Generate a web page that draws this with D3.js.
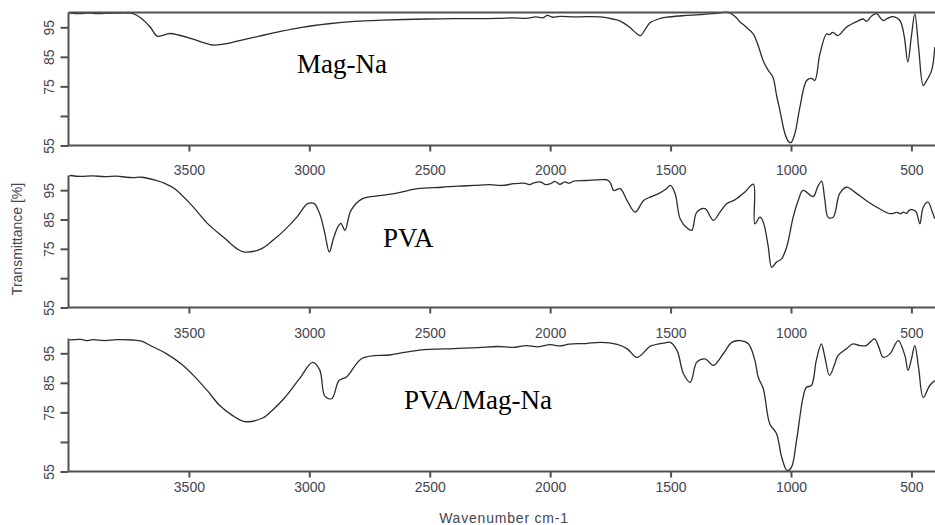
<!DOCTYPE html>
<html>
<head>
<meta charset="utf-8">
<script src="https://cdn.jsdelivr.net/npm/d3@7"></script>
<style>
  body { margin: 0; background: #fff; }
  svg { display: block; }
  .axis path, .axis line { stroke: #505050; stroke-width: 2; }
  .axis text { fill: #454550; font-family: Arial, "Liberation Sans", sans-serif; font-size: 14px; }
  .spectrum { fill: none; stroke: #2c2c2c; stroke-width: 1.3; }
  .label { font-family: "Times New Roman", "Liberation Serif", serif; font-size: 27px; fill: #000; }
</style>
</head>
<body>
<div id="graph"></div>
<script>
// spectra: [wavenumber cm-1, transmittance %]
var magNa = [[3996,99.8],[3950,99.6],[3920,99.8],[3880,99.6],[3850,99.7],[3800,99.8],[3732,99.6],[3697,98.0],[3660,95.0],[3631,92.0],[3579,92.9],[3540,92.3],[3490,91.2],[3440,89.8],[3403,89.0],[3350,89.4],[3304,90.2],[3208,92.0],[3120,93.6],[3031,95.0],[2920,96.2],[2811,97.0],[2700,97.4],[2513,97.8],[2400,97.9],[2218,98.0],[2150,98.2],[2100,98.0],[2060,98.5],[2030,98.2],[2011,99.0],[1990,98.4],[1960,98.7],[1900,98.5],[1850,98.6],[1791,98.5],[1740,97.8],[1709,97.1],[1670,95.0],[1640,92.8],[1625,92.2],[1600,95.0],[1584,96.6],[1550,97.8],[1515,98.4],[1450,98.9],[1377,99.3],[1300,99.8],[1273,100.1],[1252,99.8],[1230,98.5],[1211,96.8],[1185,95.0],[1157,92.8],[1135,88.5],[1116,83.8],[1095,80.5],[1075,78.1],[1060,72.0],[1046,66.8],[1025,59.0],[1010,56.3],[1000,56.0],[984,59.0],[963,68.0],[935,77.0],[915,77.7],[901,77.0],[880,86.0],[852,92.8],[840,92.5],[826,93.3],[806,92.2],[770,95.0],[730,96.8],[701,97.8],[686,97.0],[665,98.8],[645,99.6],[618,97.3],[600,98.0],[577,98.6],[548,97.3],[530,92.0],[515,83.2],[500,92.0],[486,99.6],[470,88.0],[451,75.3],[440,76.5],[416,80.4],[403,88.3]];

var pva = [[3996,100],[3950,99.7],[3900,99.9],[3850,99.6],[3800,99.8],[3760,99.4],[3732,99.3],[3697,99.4],[3640,98.4],[3600,97.3],[3559,95.5],[3490,90.0],[3421,83.5],[3350,78.5],[3300,75.0],[3269,73.9],[3200,75.0],[3150,78.0],[3104,81.3],[3050,86.0],[3007,90.4],[2979,90.4],[2965,88.5],[2952,85.8],[2935,80.0],[2917,73.9],[2900,78.5],[2882,82.4],[2869,83.7],[2852,81.3],[2827,88.1],[2779,92.1],[2700,93.2],[2648,93.8],[2551,95.5],[2450,96.0],[2380,96.4],[2316,96.6],[2250,96.9],[2200,96.6],[2150,97.2],[2109,97.4],[2085,96.9],[2070,97.4],[2040,97.8],[2020,96.9],[1998,97.2],[1980,98.0],[1960,97.0],[1940,97.8],[1920,97.4],[1902,98.1],[1850,98.3],[1791,98.6],[1763,98.5],[1750,97.5],[1736,94.9],[1709,95.5],[1681,91.5],[1647,87.5],[1612,91.5],[1580,92.8],[1550,93.8],[1520,95.3],[1501,96.6],[1481,93.8],[1460,85.2],[1430,82.0],[1412,81.3],[1391,87.5],[1357,88.7],[1322,84.7],[1295,87.5],[1267,90.4],[1233,91.7],[1190,94.5],[1156,97.0],[1150,83.5],[1129,85.8],[1115,84.1],[1095,76.0],[1080,68.7],[1060,70.5],[1039,71.6],[1018,75.6],[991,85.8],[970,91.5],[950,94.9],[908,92.8],[890,96.0],[873,98.1],[860,92.0],[846,85.8],[825,85.8],[798,93.8],[770,96.0],[730,94.0],[688,91.5],[640,89.0],[589,87.0],[560,87.4],[545,87.0],[534,87.5],[520,87.1],[510,88.1],[493,88.3],[480,87.5],[465,83.5],[451,89.2],[431,90.9],[415,88.0],[403,85.2]];

var pvaMagNa = [[3996,99.5],[3950,99.7],[3920,99.3],[3900,99.6],[3850,99.3],[3800,99.6],[3732,99.5],[3697,99.1],[3650,97.2],[3594,94.9],[3530,91.3],[3475,87.0],[3420,82.0],[3372,77.3],[3320,74.0],[3268,71.9],[3194,73.1],[3150,76.0],[3105,79.7],[3040,86.5],[2987,91.9],[2957,89.4],[2935,80.4],[2906,79.7],[2877,85.8],[2846,87.0],[2780,93.3],[2661,94.5],[2543,96.1],[2400,96.6],[2300,96.9],[2218,97.3],[2150,97.0],[2100,97.6],[2050,97.2],[2000,97.9],[1960,97.5],[1921,98.1],[1850,98.3],[1791,98.7],[1722,98.0],[1680,96.5],[1640,93.6],[1596,96.6],[1584,97.4],[1522,98.5],[1501,98.7],[1473,95.9],[1446,88.0],[1418,85.2],[1391,92.0],[1357,93.1],[1322,90.9],[1280,95.0],[1246,98.7],[1211,99.3],[1177,98.2],[1150,92.6],[1136,86.9],[1115,83.0],[1088,71.1],[1060,67.8],[1039,59.9],[1016,55.3],[998,56.5],[977,65.5],[950,80.1],[936,83.5],[915,84.1],[895,92.6],[874,98.2],[860,94.0],[840,87.5],[820,91.0],[805,94.2],[770,96.5],[743,98.2],[715,97.6],[688,97.6],[653,99.9],[635,97.0],[618,93.7],[589,94.8],[555,99.3],[527,94.2],[514,89.2],[500,93.0],[486,97.6],[470,90.0],[451,80.1],[424,84.1],[403,85.8]];

var seriesNames = ["Mag-Na", "PVA", "PVA/Mag-Na"];
var xTicks = [3500, 3000, 2500, 2000, 1500, 1000, 500];
var yTicks = [95, 85, 75, 65, 55];
var yTickLabels = {95: "95", 85: "85", 75: "75", 65: "", 55: "55"};
var xTitle = "Wavenumber cm-1";
var yTitle = "Transmittance [%]";

var width = 935, height = 525;

var svg = d3.select("div#graph")
    .append("svg")
    .attr("width", width)
    .attr("height", height);

var x = d3.scaleLinear().domain([4000, 400]).range([68.5, 935.5]);

// panel layout: top / bottom of each plot and gap of tick labels
var panels = [
    {data: magNa, top: 12.5, bottom: 145.5, labelGap: 29, frame: true, lx: 297, ly: 73},
    {data: pva, top: 175.5, bottom: 307.5, labelGap: 30, frame: false, lx: 383, ly: 247},
    {data: pvaMagNa, top: 338.5, bottom: 471.5, labelGap: 20, frame: false, lx: 404, ly: 409}
];

panels.forEach(function(p, i) {
    var y = d3.scaleLinear().domain([55, 100]).range([p.bottom, p.top]);
    var g = svg.append("g");

    var line = d3.line()
        .x(function(d) { return x(d[0]); })
        .y(function(d) { return y(d[1]); })
        .curve(d3.curveCatmullRom.alpha(0.5));

    g.append("path")
        .datum(p.data)
        .attr("class", "spectrum")
        .attr("d", line);

    // x axis
    var xa = g.append("g")
        .attr("class", "axis")
        .attr("transform", "translate(0," + p.bottom + ")")
        .call(d3.axisBottom(x).tickValues(xTicks).tickSize(6).tickSizeOuter(0).tickFormat(d3.format("d")));
    xa.select(".domain").attr("d", "M" + x.range()[0] + ",0H" + width);
    xa.selectAll("text").attr("y", null).attr("dy", null).attr("transform", "translate(0," + p.labelGap + ")");

    // y axis
    var ya = g.append("g")
        .attr("class", "axis")
        .attr("transform", "translate(" + x.range()[0] + ",0)")
        .call(d3.axisLeft(y).tickValues(yTicks).tickSize(8).tickSizeOuter(0)
              .tickFormat(function(d) { return yTickLabels[d]; }));
    ya.select(".domain").attr("d", "M0," + p.top + "V" + p.bottom);
    ya.selectAll(".tick text")
        .attr("x", null).attr("dy", null)
        .attr("text-anchor", "middle")
        .attr("transform", "translate(-20,0) rotate(-90)")
        .attr("dy", "0.36em");

    if (p.frame) {
        g.append("line")
            .attr("x1", x.range()[0]).attr("x2", width)
            .attr("y1", p.top).attr("y2", p.top)
            .attr("stroke", "#505050").attr("stroke-width", 2);
    }

    g.append("text")
        .attr("class", "label")
        .attr("x", p.lx)
        .attr("y", p.ly)
        .text(seriesNames[i]);
});

svg.append("text")
    .attr("x", 504).attr("y", 523)
    .attr("text-anchor", "middle")
    .style("font-family", "Arial, 'Liberation Sans', sans-serif")
    .style("font-size", "14px")
    .style("letter-spacing", "0.8px")
    .style("fill", "#454550")
    .text(xTitle);

svg.append("text")
    .attr("transform", "translate(22,239) rotate(-90)")
    .attr("text-anchor", "middle")
    .style("font-family", "Arial, 'Liberation Sans', sans-serif")
    .style("font-size", "14px")
    .style("fill", "#454550")
    .text(yTitle);
</script>
</body>
</html>
